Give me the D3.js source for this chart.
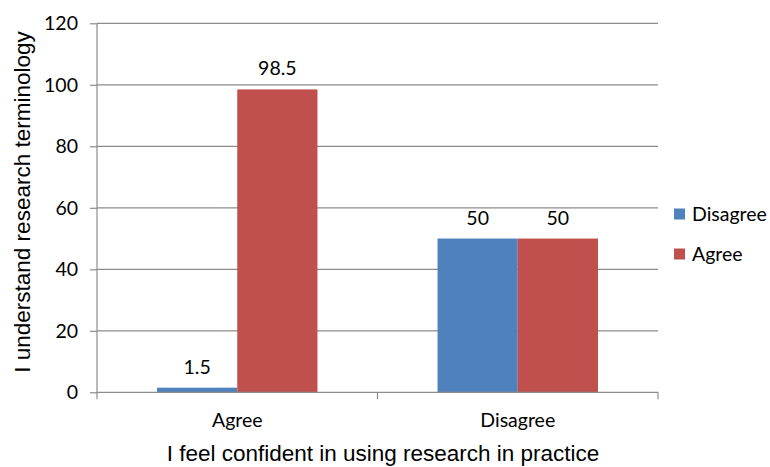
<!DOCTYPE html>
<html><head><meta charset="utf-8">
<script src="https://cdn.jsdelivr.net/npm/d3@7"></script>
<style>body{margin:0;background:#fff}svg{display:block}</style>
</head><body>
<svg id="c" width="770" height="467"></svg>
<script>
const categories = ["Agree", "Disagree"];
const seriesNames = ["Disagree", "Agree"];
const disagreeValues = [1.5, 50];
const agreeValues = [98.5, 50];
const yTicks = [0, 20, 40, 60, 80, 100, 120];
const colors = ["#4F81BD", "#C0504D"];

(function () {
const svg = d3.select("#c");
const pLeft = 97, pRight = 658, pTop = 23.3, pBottom = 392.3;
const x0 = d3.scaleBand().domain(categories).range([pLeft, pRight]).paddingInner(0.428).paddingOuter(0.214);
const x1 = d3.scaleBand().domain(seriesNames).range([0, x0.bandwidth()]);
const y = d3.scaleLinear().domain([0, 120]).range([pBottom, pTop]);
const tickFont = "Lato, 'Open Sans', sans-serif";
const fs = 19.5;

svg.append("g").selectAll("line").data(yTicks.filter(d => d > 0)).join("line")
  .attr("x1", pLeft).attr("x2", pRight).attr("y1", d => y(d)).attr("y2", d => y(d))
  .attr("stroke", "#8c8c8c").attr("stroke-width", 1.2);

const data = categories.map((c, i) => ({cat: c, vals: [disagreeValues[i], agreeValues[i]]}));
const g = svg.append("g").selectAll("g").data(data).join("g")
  .attr("transform", d => `translate(${x0(d.cat)},0)`);
g.selectAll("rect").data(d => d.vals.map((v, j) => ({s: seriesNames[j], v, j}))).join("rect")
  .attr("x", d => x1(d.s)).attr("width", x1.bandwidth())
  .attr("y", d => y(d.v)).attr("height", d => y(0) - y(d.v))
  .attr("fill", d => colors[d.j]);
g.selectAll("text").data(d => d.vals.map((v, j) => ({s: seriesNames[j], v}))).join("text")
  .attr("x", d => x1(d.s) + x1.bandwidth() / 2).attr("y", d => y(d.v) - 14)
  .attr("text-anchor", "middle").attr("font-family", tickFont).attr("font-size", fs).attr("fill", "#000")
  .text(d => d.v);

const ya = svg.append("g").attr("transform", `translate(${pLeft},0)`)
  .call(d3.axisLeft(y).tickValues(yTicks).tickSize(7).tickPadding(12));
ya.select(".domain").attr("stroke", "#8c8c8c").attr("stroke-width", 1.2).attr("d", `M0,${pBottom}V${pTop}`);
ya.selectAll(".tick line").attr("stroke", "#8c8c8c").attr("stroke-width", 1.2);
ya.selectAll(".tick text").attr("font-family", tickFont).attr("font-size", fs).attr("fill", "#000");

const xa = svg.append("g").attr("transform", `translate(0,${pBottom})`)
  .call(d3.axisBottom(x0).tickSize(0).tickPadding(21));
xa.select(".domain").attr("stroke", "#8c8c8c").attr("stroke-width", 1.2)
  .attr("d", `M${pLeft},0H${pRight}`);
xa.selectAll(".tick text").attr("font-family", tickFont).attr("font-size", fs).attr("fill", "#000");
const bounds = [pLeft, (pLeft + pRight) / 2, pRight];
svg.append("g").selectAll("line").data(bounds).join("line")
  .attr("x1", d => d).attr("x2", d => d).attr("y1", pBottom).attr("y2", pBottom + 7)
  .attr("stroke", "#8c8c8c").attr("stroke-width", 1.2);

svg.append("text").attr("x", 383).attr("y", 461).attr("text-anchor", "middle")
  .attr("font-family", "'Liberation Sans', Arial, sans-serif").attr("font-size", 22.5).attr("fill", "#000")
  .text("I feel confident in using research in practice");
svg.append("text").attr("transform", `translate(30,202) rotate(-90)`).attr("text-anchor", "middle")
  .attr("font-family", "'Liberation Sans', Arial, sans-serif").attr("font-size", 22.5).attr("fill", "#000")
  .text("I understand research terminology");

const lg = svg.append("g").selectAll("g").data(seriesNames).join("g")
  .attr("transform", (d, i) => `translate(674,${214 + i * 40})`);
lg.append("rect").attr("x", 0).attr("y", -5.5).attr("width", 11).attr("height", 11).attr("fill", (d, i) => colors[i]);
lg.append("text").attr("x", 18).attr("y", 0).attr("dy", "0.35em")
  .attr("font-family", tickFont).attr("font-size", fs).attr("fill", "#000").text(d => d);
})();
</script>
</body></html>
